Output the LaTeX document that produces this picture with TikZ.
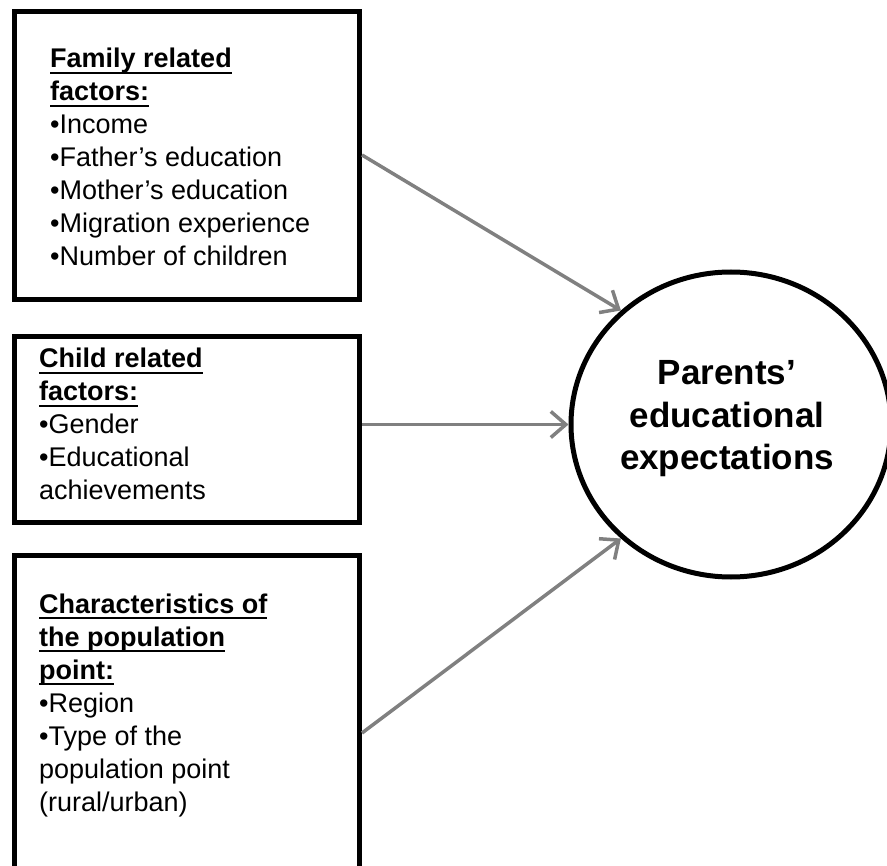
\documentclass[tikz,border=0pt]{standalone}
\usepackage{fontspec}
\setmainfont{Liberation Sans}
\usetikzlibrary{shapes.geometric,arrows.meta}
\definecolor{arrowgray}{RGB}{128,128,128}
\newsavebox\hdrbox
\newcommand{\hdrline}[1]{\sbox\hdrbox{\bfseries #1}\rlap{\rule[-6pt]{\wd\hdrbox}{2pt}}\usebox\hdrbox}
\begin{document}
\begin{tikzpicture}[x=1pt,y=-1pt,
  factorbox/.style={draw=black,line width=5pt,rectangle,inner sep=0pt},
  factortext/.style={anchor=base west,align=left,inner sep=0pt,font=\fontsize{27}{33}\selectfont},
  targetnode/.style={draw=black,line width=5pt,ellipse,inner sep=0pt},
  conn/.style={draw=arrowgray,line width=3.5pt,-{Straight Barb[length=15pt,width=26pt]}},
]
\useasboundingbox (0,0) rectangle (887,866);
\clip (0,0) rectangle (887,866);

\node[factorbox,minimum width=345pt,minimum height=288pt] (b1) at (187,155.5) {};
\node[factorbox,minimum width=345pt,minimum height=186pt] (b2) at (187,429.5) {};
\node[factorbox,minimum width=345pt,minimum height=320pt] (b3) at (187,715.5) {};

\node[targetnode,minimum width=320pt,minimum height=305pt] (circ) at (731,424.5) {};

% anchor base = baseline of the last line
\node[factortext] (t1) at (50,266) {\hdrline{Family related}\\\hdrline{factors:}\\•Income\\•Father’s education\\•Mother’s education\\•Migration experience\\•Number of children};
\node[factortext] (t2) at (39,500) {\hdrline{Child related}\\\hdrline{factors:}\\•Gender\\•Educational\\achievements};
\node[factortext] (t3) at (39,811) {\hdrline{Characteristics of}\\\hdrline{the population}\\\hdrline{point:}\\•Region\\•Type of the\\population point\\(rural/urban)};

\node[font=\bfseries\fontsize{35}{42.5}\selectfont,align=center,anchor=base,inner sep=0pt] (ctext) at (727,470) {Parents’\\educational\\expectations};

\coordinate (s1) at (b1.east |- 0,155);
\coordinate (s2) at (b2.east |- circ.west);
\coordinate (s3) at (b3.east |- 0,733);
\draw[conn] (s1) -- (circ.134);
\draw[conn] (s2) -- (circ.west);
\draw[conn] (s3) -- (circ.226);
\end{tikzpicture}
\end{document}
